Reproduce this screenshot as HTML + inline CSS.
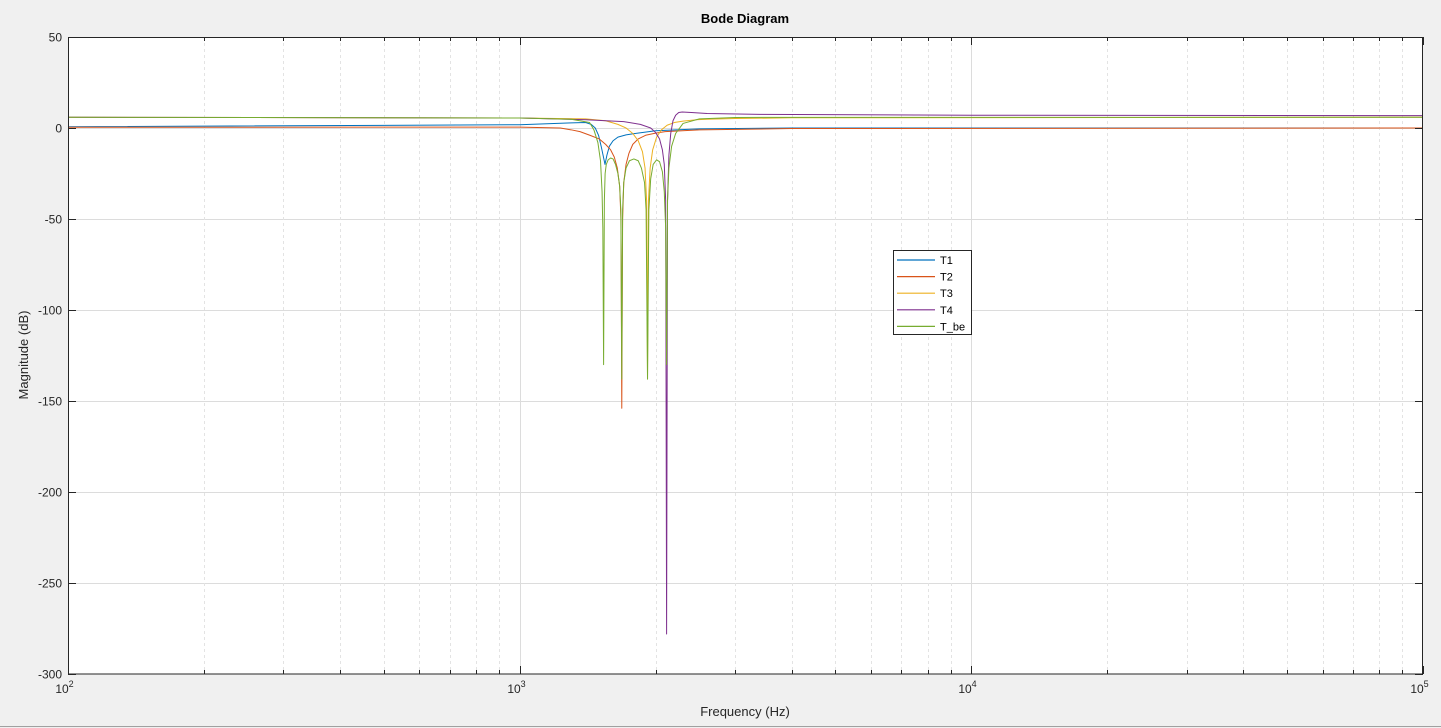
<!DOCTYPE html>
<html><head><meta charset="utf-8"><style>
html,body{margin:0;padding:0;background:#f0f0f0;}
svg{display:block;font-family:"Liberation Sans",Arial,sans-serif;}
</style></head><body>
<svg id="chart" width="1441" height="728" viewBox="0 0 1441 728" xmlns="http://www.w3.org/2000/svg">
<rect x="0" y="0" width="1441" height="728" fill="#f0f0f0"/>
<line x1="0" y1="726.5" x2="1441" y2="726.5" stroke="#a0a0a0"/>
<rect x="68" y="37" width="1355" height="637" fill="#ffffff"/>
<g id="grid"></g>
<g id="series"></g>
<rect x="68.5" y="37.5" width="1354" height="636.5" fill="none" stroke="#262626" stroke-width="1"/>
<g id="ticks"></g>
<text x="745" y="23" text-anchor="middle" font-size="13" font-weight="bold" fill="#000">Bode Diagram</text>
<text x="745" y="716" text-anchor="middle" font-size="13" fill="#262626">Frequency  (Hz)</text>
<text transform="translate(28,355) rotate(-90)" text-anchor="middle" font-size="13" fill="#262626">Magnitude (dB)</text>
<g id="legend"></g>
</svg>
<script>
const yTicks = [50, 0, -50, -100, -150, -200, -250, -300];
const xDecades = [2, 3, 4, 5];
const seriesNames = ["T1", "T2", "T3", "T4", "T_be"];
const seriesColors = ["#0072bd", "#d95319", "#edb120", "#7e2f8e", "#77ac30"];
const t1Freq = [100,1000,1300,1400,1440,1470,1495,1515,1530,1545,1560,1580,1610,1650,1720,1800,2000,2500,4000,100000];
const t1Mag  = [0.7,1.8,2.8,3,2,0,-4,-10,-15,-20,-15,-10,-7,-5,-3.8,-3,-1.5,-0.5,0,0];
const t2Freq = [100,1000,1230,1300,1360,1430,1500,1550,1590,1620,1645,1665,1676,1683,1690,1700,1720,1745,1780,1830,1900,2000,2100,2500,4000,100000];
const t2Mag  = [0.4,0.5,0,-1,-2,-4,-6,-9,-12,-16,-22,-32,-50,-154,-50,-30,-20,-14,-9,-6,-4,-2.8,-2,-1,-0.3,0];
const t3Freq = [100,1000,1400,1550,1650,1720,1780,1830,1870,1895,1910,1919,1928,1945,1970,2010,2060,2120,2200,2300,2450,2600,3000,4000,100000];
const t3Mag  = [5.9,5.5,5,4,2,0,-3,-7,-13,-22,-40,-138,-40,-22,-12,-5,-1,1.5,3,3.8,4.5,4.8,5.2,5.6,5.9];
const t4Freq = [100,1000,1400,1700,1850,1950,2000,2040,2070,2090,2105,2115,2125,2140,2160,2185,2215,2250,2290,2400,2600,3400,10000,100000];
const t4Mag  = [5.9,5.5,4.5,3.5,2,0,-2.5,-6,-12,-20,-40,-278,-40,-15,-3,4,7,8.5,8.8,8.5,8,7.5,7,6.8];
const tbeFreq = [100,1000,1300,1428,1460,1490,1510,1522,1528,1534,1540,1546,1555,1570,1590,1610,1630,1650,1665,1675,1683,1690,1700,1720,1750,1790,1830,1860,1890,1905,1919,1932,1950,1975,2010,2040,2070,2090,2105,2115,2125,2140,2170,2215,2300,2500,3000,100000];
const tbeMag  = [5.9,5.5,4.8,3,-1,-8,-18,-35,-55,-130,-40,-25,-20,-17.5,-16.5,-17,-20,-25,-32,-45,-138,-45,-30,-22,-18,-17,-18,-22,-30,-45,-138,-45,-28,-20,-17.5,-18.5,-24,-35,-55,-130,-40,-22,-10,-3,2.5,5,5.8,5.9];

const X0=68, X1=1423, Y0=37, Y1=674, YMAX=50, YMIN=-300;
function xScale(f){ return X0 + (Math.log10(f)-2)/3*(X1-X0); }
function yScale(v){ return Y0 + (YMAX-v)/(YMAX-YMIN)*(Y1-Y0); }
const NS="http://www.w3.org/2000/svg";
function mk(tag, attrs){ const e=document.createElementNS(NS,tag); for(const k in attrs) e.setAttribute(k,attrs[k]); return e; }

const grid=document.getElementById('grid');
const ticks=document.getElementById('ticks');
yTicks.forEach(v=>{
  const y=Math.round(yScale(v))+0.5;
  if(v!==YMAX && v!==YMIN){
    const g=mk('line',{x1:X0,x2:X1,y1:y,y2:y,stroke:'#dcdcdc','stroke-width':1});
    
    
    grid.appendChild(g);
  }
  const t1=mk('line',{x1:X0,x2:X0+8,y1:y,y2:y,stroke:'#262626'});
  
  
  ticks.appendChild(t1);
  const t2=mk('line',{x1:X1-8,x2:X1,y1:y,y2:y,stroke:'#262626'});
  
  
  ticks.appendChild(t2);
  const lb=mk('text',{x:62,y:y+4,'text-anchor':'end','font-size':12,fill:'#262626'});
  lb.textContent=String(v);
  
  
  ticks.appendChild(lb);
});
xDecades.forEach((d,i)=>{
  const x=Math.round(xScale(Math.pow(10,d)))+0.5;
  if(i>0 && i<xDecades.length-1){
    const g=mk('line',{x1:x,x2:x,y1:Y0,y2:Y1,stroke:'#dcdcdc'});
    
    
    grid.appendChild(g);
  }
  const lb=mk('text',{x:x-4,y:693,'text-anchor':'middle','font-size':12,fill:'#262626'});
  lb.textContent='10';
  const sup=mk('tspan',{dy:-6,'font-size':9});
  sup.textContent=String(d);
  lb.appendChild(sup);
  
  
  ticks.appendChild(lb);
  [[Y1-8,Y1],[Y0,Y0+8]].forEach(p=>{
    const t=mk('line',{x1:x,x2:x,y1:p[0],y2:p[1],stroke:'#262626'});
    
    
    ticks.appendChild(t);
  });
  if(i<xDecades.length-1){
    for(let m=2;m<=9;m++){
      const xm=Math.round(xScale(m*Math.pow(10,d)))+0.5;
      const g=mk('line',{x1:xm,x2:xm,y1:Y0,y2:Y1,stroke:'#e3e3e3','stroke-dasharray':'3,3'});
      
      
      grid.appendChild(g);
      [[Y1-4,Y1],[Y0,Y0+4]].forEach(p=>{
        const t=mk('line',{x1:xm,x2:xm,y1:p[0],y2:p[1],stroke:'#262626'});
        
        
        ticks.appendChild(t);
      });
    }
  }
});
const allFreq=[t1Freq,t2Freq,t3Freq,t4Freq,tbeFreq];
const allMag=[t1Mag,t2Mag,t3Mag,t4Mag,tbeMag];
const sg=document.getElementById('series');
[0,1,2,3,4].forEach(i=>{
  const pts=allFreq[i].map((f,j)=>xScale(f).toFixed(2)+','+yScale(allMag[i][j]).toFixed(2)).join(' ');
  const pl=mk('polyline',{points:pts,fill:'none',stroke:seriesColors[i],'stroke-width':1,'stroke-linejoin':'round'});
  
  
  sg.appendChild(pl);
});
const lg=document.getElementById('legend');
const box=mk('rect',{x:893.5,y:250.5,width:78,height:84,fill:'#fff',stroke:'#262626'});


lg.appendChild(box);
seriesNames.forEach((n,i)=>{
  const y=260+i*16.6;
  const ln=mk('line',{x1:897,x2:935,y1:y,y2:y,stroke:seriesColors[i],'stroke-width':1.2});
  
  
  lg.appendChild(ln);
  const tx=mk('text',{x:940,y:y+4,'font-size':11,fill:'#000'});
  tx.textContent=n;
  
  
  lg.appendChild(tx);
});
</script>
</body></html>
